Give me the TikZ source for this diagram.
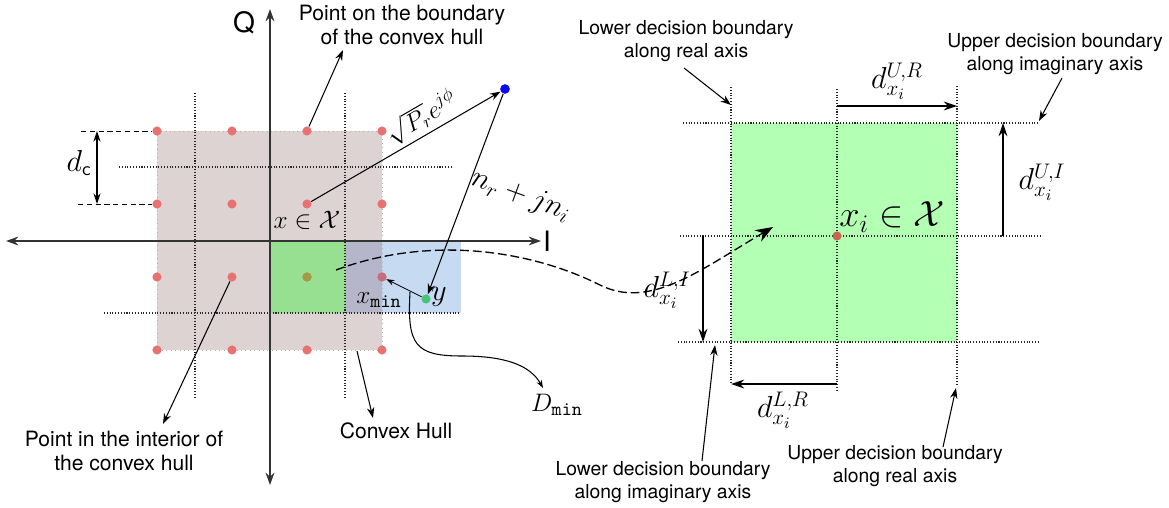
\documentclass[tikz,border=0pt]{standalone}
\usepackage[no-math]{fontspec}
\newfontfamily\helv{TeX Gyre Heros}
\usetikzlibrary{positioning, arrows.meta, calc}
\definecolor{hull}{HTML}{DCD3D2}
\definecolor{grnl}{HTML}{98E091}
\definecolor{grnr}{HTML}{B3FFB3}
\definecolor{blu}{HTML}{C6DAF2}
\definecolor{ovl}{HTML}{B6B6CA}
\definecolor{ptred}{HTML}{E87272}
\definecolor{ptolv}{HTML}{A09B46}
\definecolor{ptxm}{HTML}{C56E80}
\definecolor{ptgrn}{HTML}{45C47A}
\definecolor{ptblu}{HTML}{0A0AF0}
\definecolor{ptctr}{HTML}{C4674E}
\tikzset{
  bnd/.style={densely dotted, line width=0.6pt, draw=black!85},
  hbrd/.style={dotted, line width=0.5pt, draw=black!30},
  dsh/.style={densely dashed, line width=0.55pt},
  ax/.style={{Stealth[length=7pt,width=5pt]}-{Stealth[length=7pt,width=5pt]}, line width=0.85pt, draw=black!80},
  arr/.style={-{Stealth[length=6pt,width=4.2pt]}, line width=0.6pt},
  arrs/.style={-{Stealth[length=4.5pt,width=3.2pt]}, line width=0.45pt},
  dim/.style={-{Stealth[length=7.5pt,width=5pt]}, line width=0.9pt},
  dimc/.style={{Stealth[length=6pt,width=4pt]}-{Stealth[length=6pt,width=4pt]}, line width=0.75pt},
  bigarr/.style={-{Stealth[length=10pt,width=7.5pt]}, line width=0.75pt, dash pattern=on 5pt off 2.2pt},
  pt/.style={circle, fill=#1, inner sep=0pt, minimum size=5.2pt},
  pt/.default=ptred,
  ann/.style={font=\helv\fontsize{12}{14}\selectfont, align=center, inner sep=1pt},
  annr/.style={font=\helv\fontsize{11}{13}\selectfont, align=center, inner sep=1pt},
  axl/.style={font=\helv\fontsize{16}{18}\selectfont, inner sep=0pt},
  lab/.style={font=\fontsize{#1}{#1}\selectfont, inner sep=0pt},
  lab/.default=15,
}

\begin{document}
\begin{tikzpicture}[x=0.02cm, y=-0.02cm]
\useasboundingbox (0,0) rectangle (1169,507);

% left: constellation, hull and decision regions
\fill[hull] (157,131) rectangle (382,350);
\fill[blu] (345,241) rectangle (461,313);
\fill[ovl] (345,241) rectangle (382,313);
\fill[grnl] (270,241) rectangle (345,313);
\draw[hbrd] (157,131) rectangle (382,350);
\draw[bnd] (195,93) -- (195,397);
\draw[bnd] (345,93) -- (345,397);
\draw[bnd] (119,167) -- (453,167);
\draw[bnd] (104,313) -- (461,313);

\coordinate (qbot) at (270,485);
\coordinate (qtop) at (270,9);
\coordinate (ileft) at (6,241);
\coordinate (iright) at (541,241);
\draw[ax] (qbot) -- (qtop);
\draw[ax] (ileft) -- (iright);
\node[axl] (qlab) at (244,23) {Q};
\node[axl] (ilab) at (547,241) {I};

\foreach \i/\x in {1/157,2/232,3/307,4/382}
  \foreach \j/\y in {1/131,2/204,3/277,4/350}
    \node[pt] (p-\i-\j) at (\x,\y) {};
\node[pt=ptolv] (p-3-3) at (307,277) {};
\node[pt=ptxm] (p-4-3) at (382,277) {};
\node[pt=ptblu, minimum size=5.5pt] (rx) at (505,89) {};
\node[pt=ptgrn] (yrx) at (426,299) {};

% d_c spacing
\draw[dsh] (81,131) -- (p-1-1);
\draw[dsh] (78,204) -- (p-1-2);
\coordinate (dc-t) at (97,131);
\coordinate (dc-b) at (97,204);
\draw[dimc] (dc-t) -- (dc-b);
\node[lab=16] (dclab) at (79,163) {$d_{\mathsf{c}}$};

% received signal
\node[lab=15.5] (xlab) at (307,220) {$x \in \mathcal{X}$};
\draw[arr] (p-3-2) -- node[sloped, above=2pt, pos=0.63, lab=14.5] (plab) {$\sqrt{P_r}e^{j\phi}$} (rx);
\draw[arr] (rx) -- (yrx);
\node[lab=17, rotate=-20] (nlab) at (521,196) {$n_r + jn_i$};
\draw[arrs] (yrx) -- (p-4-3);
\node[lab=15] (xmlab) at (379,300) {$x_{\mathtt{min}}$};
\node[lab=16] (ylab) at (439,297) {$y$};

\coordinate (dm-s) at (410,292);
\coordinate (dm-e) at (543,388);
\draw[arrs, line width=0.6pt] (dm-s) .. controls (407,345) and (415,356) .. (462,356)
  .. controls (505,356) and (530,365) .. (dm-e);
\node[lab=15] (dmlab) at (557,405) {$D_{\mathtt{min}}$};

% annotations, left
\node[ann] (bndtxt) at (402,25) {Point on the boundary\\of the convex hull};
\coordinate (bnd-e) at (343,50);
\draw[arr] (p-3-1) -- (bnd-e);
\node[ann] (inttxt) at (124,451) {Point in the interior of\\the convex hull};
\coordinate (int-e) at (163,424);
\draw[arr] (p-2-3) -- (int-e);
\node[ann] (hulltxt) at (396,431) {Convex Hull};
\coordinate (hull-s) at (357,351);
\coordinate (hull-e) at (373,418);
\draw[arr] (hull-s) -- (hull-e);

% zoomed decision region
\fill[grnr] (731,123) rectangle (957,342);
\draw[bnd] (731,87) -- (731,384);
\draw[bnd] (837,89) -- (837,392);
\draw[bnd] (957,86) -- (957,386);
\draw[bnd] (683,123) -- (1040,123);
\draw[bnd] (680,236) -- (1041,236);
\draw[bnd] (678,342) -- (1040,342);
\node[pt=ptctr] (xi) at (837,236) {};
\node[lab=20] (xilab) at (892,217) {$x_i \in \mathcal{X}$};

\coordinate (sq-s) at (336,270);
\coordinate (sq-e) at (773,227);
\draw[bigarr] (sq-s) .. controls (430,235) and (530,250) .. (600,285)
  .. controls (650,310) and (700,270) .. (sq-e);

\coordinate (ur-a) at (837,106);
\coordinate (ur-b) at (957,106);
\draw[dim] (ur-a) -- (ur-b);
\node[lab=18] (urlab) at (897,81) {$d^{U,R}_{x_i}$};
\coordinate (ui-a) at (1003,236);
\coordinate (ui-b) at (1003,123);
\draw[dim] (ui-a) -- (ui-b);
\node[lab=18] (uilab) at (1042,182) {$d^{U,I}_{x_i}$};
\coordinate (li-a) at (703,236);
\coordinate (li-b) at (703,342);
\draw[dim] (li-a) -- (li-b);
\node[lab=18] (lilab) at (667,290) {$d^{L,I}_{x_i}$};
\coordinate (lr-a) at (837,384);
\coordinate (lr-b) at (731,384);
\draw[dim] (lr-a) -- (lr-b);
\node[lab=18] (lrlab) at (783,410) {$d^{L,R}_{x_i}$};

% annotations, right
\node[annr] (lrtxt) at (686,41) {Lower decision boundary\\along real axis};
\coordinate (lrt-s) at (684,68);
\coordinate (lrt-e) at (731,105);
\draw[arr] (lrt-s) -- (lrt-e);
\node[annr] (uitxt) at (1055,54) {Upper decision boundary\\along imaginary axis};
\coordinate (uit-s) at (1062,78);
\coordinate (uit-e) at (1039,121);
\draw[arr] (uit-s) -- (uit-e);
\node[annr] (litxt) at (663,482) {Lower decision boundary\\along imaginary axis};
\coordinate (lit-s) at (702,461);
\coordinate (lit-e) at (715,345);
\draw[arr] (lit-s) -- (lit-e);
\node[annr] (urtxt) at (895,466) {Upper decision boundary\\along real axis};
\coordinate (urt-s) at (943,447);
\coordinate (urt-e) at (956,388);
\draw[arr] (urt-s) -- (urt-e);
\end{tikzpicture}
\end{document}
